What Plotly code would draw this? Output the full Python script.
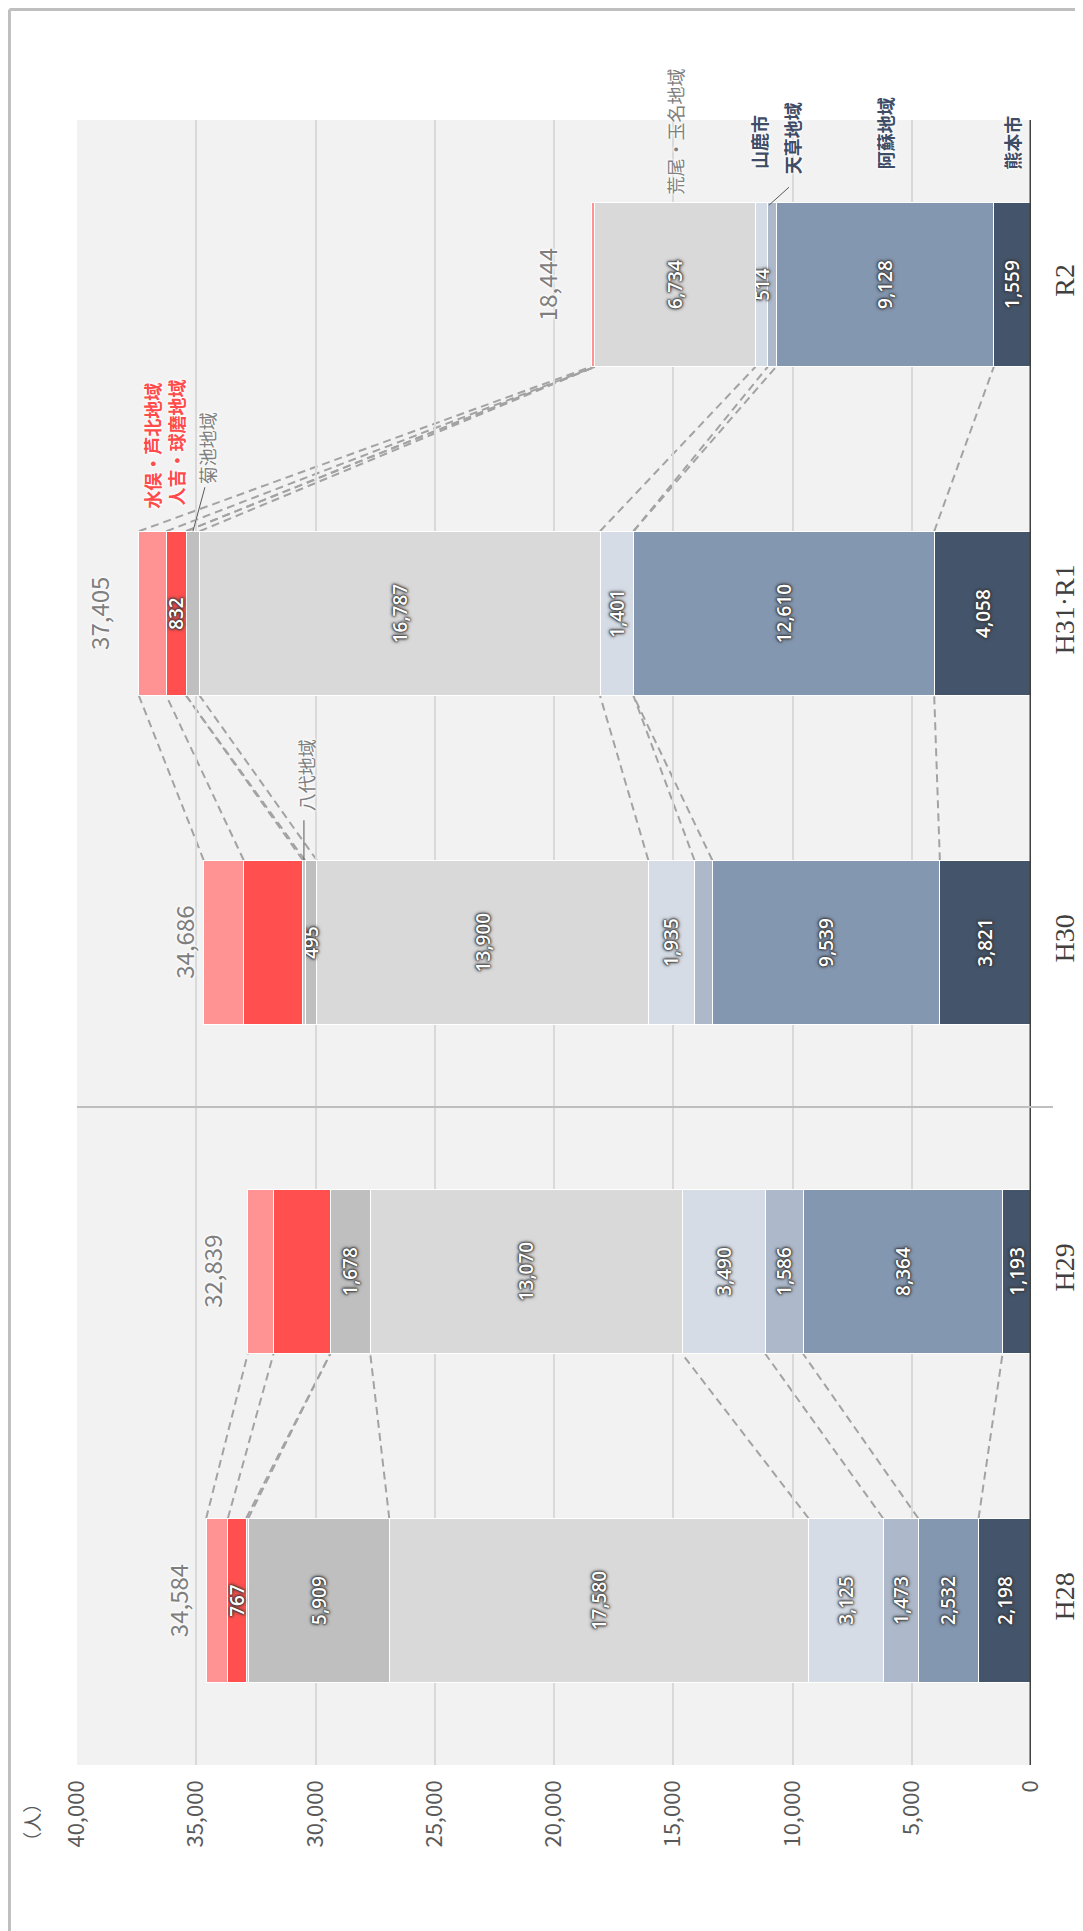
import plotly.graph_objects as go

# ---------------- data ----------------
categories = ["H28", "H29", "H30", "H31·R1", "R2"]

series_names = ["熊本市", "阿蘇地域", "天草地域", "山鹿市", "荒尾・玉名地域",
                "菊池地域", "八代地域", "人吉・球磨地域", "水俣・芦北地域"]

kumamoto   = [2198, 1193, 3821, 4058, 1559]
aso        = [2532, 8364, 9539, 12610, 9128]
amakusa    = [1473, 1586, 750, 0, 350]
yamaga     = [3125, 3490, 1935, 1401, 514]
arao       = [17580, 13070, 13900, 16787, 6734]
kikuchi    = [5909, 1678, 495, 566, 0]
yatsushiro = [90, 0, 90, 0, 0]
hitoyoshi  = [767, 2379, 2478, 832, 0]
minamata   = [910, 1079, 1678, 1151, 159]

# which segment values are printed inside the bars
shown = {
    "熊本市":        [1, 1, 1, 1, 1],
    "阿蘇地域":      [1, 1, 1, 1, 1],
    "天草地域":      [1, 1, 0, 0, 0],
    "山鹿市":        [1, 1, 1, 1, 1],
    "荒尾・玉名地域": [1, 1, 1, 1, 1],
    "菊池地域":      [1, 1, 1, 0, 0],
    "八代地域":      [0, 0, 0, 0, 0],
    "人吉・球磨地域": [1, 0, 0, 1, 0],
    "水俣・芦北地域": [0, 0, 0, 0, 0],
}

x_ticks = [0, 5000, 10000, 15000, 20000, 25000, 30000, 35000, 40000]

# ---------------- style ----------------
values = [kumamoto, aso, amakusa, yamaga, arao, kikuchi, yatsushiro, hitoyoshi, minamata]
colors = ["#44546a", "#8497b0", "#adb9ca", "#d6dce5", "#d9d9d9",
          "#bfbfbf", "#c9c9c9", "#ff4f4f", "#ff9393"]

BAR_W = 0.5
NUM_FONT = "Open Sans"
DARK_SHADOW = ("0px 0px 2px #333333, 0px 0px 2px #333333, "
               "0px 0px 3px #3a3a3a, 0px 0px 4px #444444")
WHITE_SHADOW = "0px 0px 3px #ffffff, 0px 0px 3px #ffffff, 0px 0px 4px #ffffff"

fig = go.Figure()
for name, vals, col in zip(series_names, values, colors):
    txt = [f"{v:,}" if (s and v > 0) else "" for v, s in zip(vals, shown[name])]
    fig.add_trace(go.Bar(
        name=name, y=categories, x=vals, orientation="h",
        width=BAR_W,
        marker=dict(color=col, line=dict(color="#ffffff", width=1)),
        text=txt, textposition="inside", insidetextanchor="middle",
        textangle=-90, constraintext="none",
        textfont=dict(family=NUM_FONT, size=19, color="#ffffff", weight=600,
                      shadow=DARK_SHADOW),
        hoverinfo="skip",
    ))

# cumulative tops
n = len(categories)
cum = []
for i in range(n):
    acc = 0
    row = []
    for vals in values:
        acc += vals[i]
        row.append(acc)
    cum.append(row)
totals = [row[-1] for row in cum]

shapes = []
# dashed connectors
for (a, b) in [(0, 1), (2, 3), (3, 4)]:
    for s in range(len(values)):
        shapes.append(dict(
            type="line", xref="x", yref="y",
            x0=cum[a][s], y0=a + BAR_W / 2, x1=cum[b][s], y1=b - BAR_W / 2,
            line=dict(color="#a3a3a3", width=2, dash="8px,5px"), layer="below",
        ))

# baseline at 0
shapes.append(dict(type="line", xref="x", yref="paper", x0=0, x1=0, y0=0, y1=1,
                   line=dict(color="#404040", width=3)))
# separator between H29 and H30
shapes.append(dict(type="line", xref="paper", yref="y", x0=0, x1=1.023, y0=1.5, y1=1.5,
                   line=dict(color="#bfbfbf", width=2)))
# frame lines (top & left)
shapes.append(dict(type="line", xref="paper", yref="paper", x0=-0.0708, x1=1.06,
                   y0=1.0672, y1=1.0672, line=dict(color="#bfbfbf", width=3)))
shapes.append(dict(type="line", xref="paper", yref="paper", x0=-0.0708, x1=-0.0708,
                   y0=1.0672, y1=-0.11, line=dict(color="#bfbfbf", width=3)))


def seg_center(i, s):
    top = cum[i][s]
    return top - values[s][i] / 2


annotations = []
# totals
total_gap = [9, 17, 1, 21, 25]
for i, t in enumerate(totals):
    annotations.append(dict(
        x=t, y=i, xref="x", yref="y", text=f"{t:,}", showarrow=False,
        textangle=-90, xanchor="right", yanchor="middle", xshift=-total_gap[i],
        font=dict(family="Noto Sans CJK JP", size=24, color="#7f7f7f",
                  shadow=WHITE_SHADOW),
    ))

# region labels: (series index, bar index, xshift, yshift, color, weight)
NAVY = "#3e4c66"
GRAY = "#7f7f7f"
RED = "#ff4b4b"
region_labels = [
    (0, 4, 0, 31, NAVY, 700),
    (1, 4, 0, 31, NAVY, 700),
    (2, 4, 20, 26, NAVY, 700),
    (3, 4, -2, 31, NAVY, 700),
    (4, 4, 0, 6, GRAY, 400),
    (5, 3, 14, 45, GRAY, 400),
    (6, 2, 2, 47, GRAY, 400),
    (7, 3, 0, 24, RED, 700),
    (8, 3, 0, 20, RED, 700),
]
for s, i, xs, ys, col, wt in region_labels:
    annotations.append(dict(
        x=seg_center(i, s), y=i + BAR_W / 2, xref="x", yref="y",
        text=series_names[s], showarrow=False, textangle=-90,
        xanchor="center", yanchor="bottom", xshift=xs, yshift=ys,
        font=dict(family="Noto Sans CJK JP", size=18, color=col, weight=wt,
                  shadow=WHITE_SHADOW),
    ))

# leader lines (pixel-sized, anchored at segment edge)
leaders = [(2, 4, -3, -3, 17, 15), (5, 3, 0, 0, 12, 44), (6, 2, 0, 0, 0, 40)]
for s, i, px0, py0, px1, py1 in leaders:
    shapes.append(dict(
        type="line", xref="x", yref="y", xsizemode="pixel", ysizemode="pixel",
        xanchor=seg_center(i, s), yanchor=i + BAR_W / 2,
        x0=px0, y0=py0, x1=px1, y1=py1,
        line=dict(color="#595959", width=1),
    ))

# unit label
annotations.append(dict(
    x=-0.048, y=-0.035, xref="paper", yref="paper", text="（人）", showarrow=False,
    textangle=-90, xanchor="center", yanchor="middle",
    font=dict(family="Noto Sans CJK JP", size=19, color="#595959"),
))

fig.update_layout(
    width=1083, height=1931,
    margin=dict(l=69, r=60, t=112, b=174),
    barmode="stack", bargap=0.5,
    showlegend=False,
    plot_bgcolor="#f2f2f2", paper_bgcolor="#ffffff",
    uniformtext=dict(minsize=19, mode="show"),
    shapes=shapes, annotations=annotations,
    hovermode=False,
    xaxis=dict(
        range=[40000, 0], tickvals=x_ticks, tickformat=",", tickangle=-90,
        showgrid=True, gridcolor="#d9d9d9", gridwidth=2, zeroline=False,
        tickfont=dict(family="Noto Sans CJK JP", size=22, color="#595959"),
        ticks="", ticklabelstandoff=10, fixedrange=True,
    ),
    yaxis=dict(
        type="category", categoryorder="array", categoryarray=categories,
        range=[-0.5, 4.5], side="right", tickangle=-90,
        showgrid=False, zeroline=False, ticks="",
        tickfont=dict(family="Liberation Serif", size=28, color="#404040"),
        ticklabelstandoff=14, fixedrange=True,
    ),
)

fig.write_html("out.html")
